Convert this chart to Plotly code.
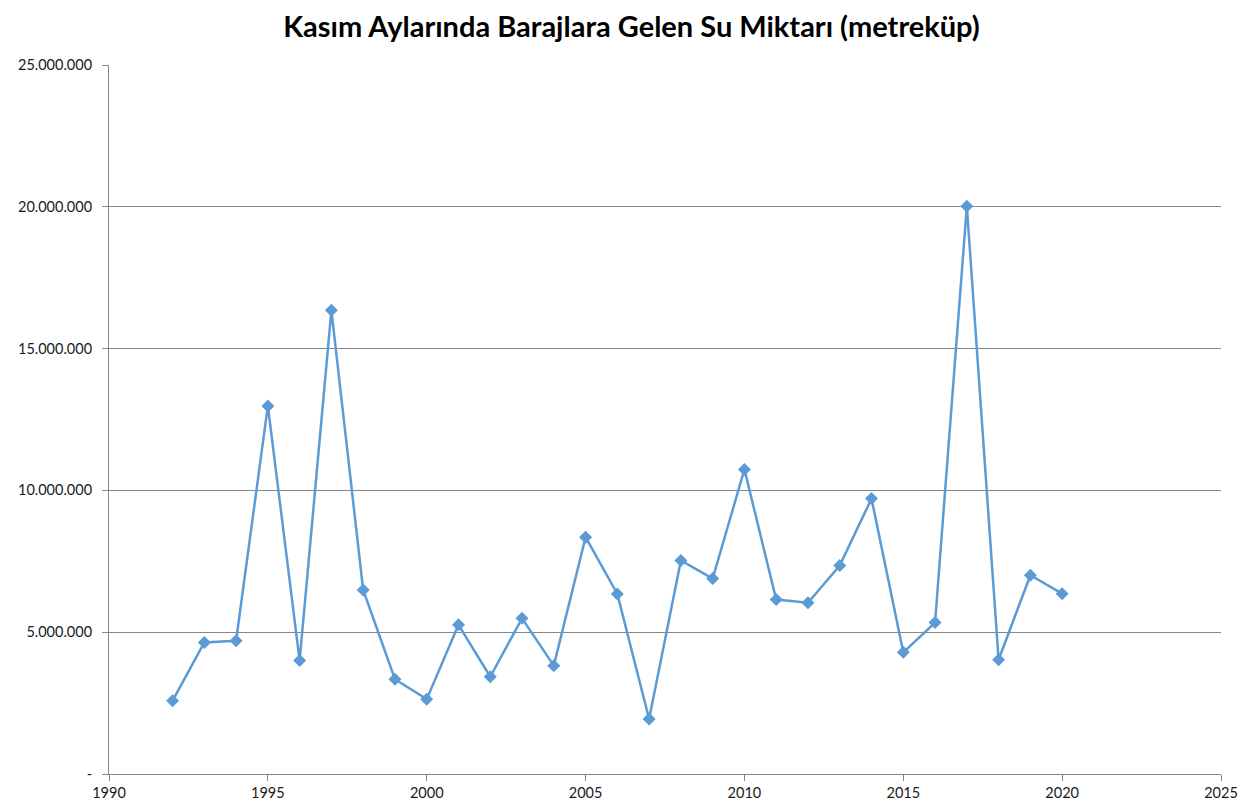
import plotly.graph_objects as go

years = list(range(1992, 2021))
water = [
    2.58e6, 4.64e6, 4.70e6, 12.98e6, 4.00e6, 16.35e6, 6.49e6, 3.34e6, 2.64e6,
    5.26e6, 3.43e6, 5.49e6, 3.82e6, 8.35e6, 6.35e6, 1.94e6, 7.53e6, 6.89e6,
    10.74e6, 6.15e6, 6.04e6, 7.35e6, 9.71e6, 4.29e6, 5.34e6, 20.02e6, 4.03e6,
    7.01e6, 6.36e6,
]

y_tickvals = [0, 5e6, 10e6, 15e6, 20e6, 25e6]
y_ticktext = ["-", "5.000.000", "10.000.000", "15.000.000", "20.000.000", "25.000.000"]

title_text = "Kasım Aylarında Barajlara Gelen Su Miktarı (metreküp)"

line_color = "#5B9BD5"
grid_color = "#868686"

fig = go.Figure()

fig.add_trace(go.Scatter(
    x=years, y=water,
    mode="lines+markers",
    line=dict(color=line_color, width=2.5),
    marker=dict(symbol="diamond", size=10, color=line_color),
    showlegend=False,
))

# page has an 8px body margin, so the figure is a bit smaller than the window
fig.update_layout(
    width=1247, height=804,
    paper_bgcolor="white",
    plot_bgcolor="white",
    margin=dict(l=101, r=34, t=57, b=38),
    title=dict(
        text="<b>" + title_text + "</b>",
        x=0.5, xanchor="center",
        y=0.976, yanchor="middle",
        font=dict(family="Lato", size=29, color="black"),
    ),
    font=dict(family="Lato", size=14.5, color="#1a1a1a"),
    xaxis=dict(
        range=[1990, 2025],
        tick0=1990, dtick=5,
        showgrid=False,
        showline=True, linecolor=grid_color, linewidth=1,
        ticks="outside", ticklen=6, tickcolor=grid_color,
        zeroline=False,
        automargin=False,
    ),
    yaxis=dict(
        range=[0, 25e6],
        tickvals=y_tickvals, ticktext=y_ticktext,
        showgrid=True, gridcolor=grid_color, gridwidth=1,
        showline=True, linecolor=grid_color, linewidth=1,
        ticks="outside", ticklen=6, tickcolor=grid_color,
        ticklabelstandoff=7,
        zeroline=False,
        automargin=False,
    ),
)

fig.write_html("out.html")
